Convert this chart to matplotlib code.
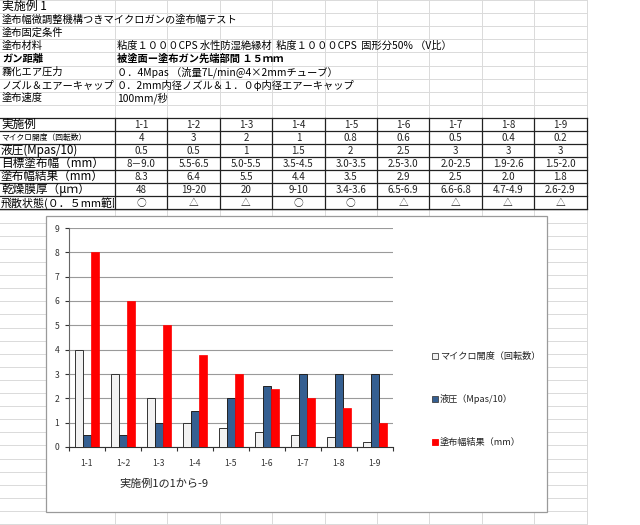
import numpy as np
import matplotlib
matplotlib.use("Agg")
import matplotlib.pyplot as plt
from matplotlib.patches import Rectangle

plt.rcParams['font.family'] = ['Noto Sans CJK JP', 'DejaVu Sans']

# header lines of the sheet
header_rows = [
    ("実施例 1", ""),
    ("塗布幅微調整機構つきマイクロガンの塗布幅テスト", ""),
    ("塗布固定条件", ""),
    ("塗布材料", "粘度１０００CPS 水性防湿絶縁材  粘度１０００CPS  固形分50% （V比）"),
    ("ガン距離", "被塗面ー塗布ガン先端部間 １５ｍｍ"),
    ("霧化エア圧力", "０．4Mpas （流量7L/min@4×2mmチューブ）"),
    ("ノズル＆エアーキャップ", "０．2mm内径ノズル＆１．０φ内径エアーキャップ"),
    ("塗布速度", "100mm/秒"),
]

# table
cases = ["1-1", "1-2", "1-3", "1-4", "1-5", "1-6", "1-7", "1-8", "1-9"]
row_labels = ["実施例", "マイクロ開度（回転数）", "液圧(Mpas/10)", "目標塗布幅（mm）",
              "塗布幅結果（mm）", "乾燥膜厚（μｍ）", "飛散状態(０．５mm範囲"]
micro_open = ["4", "3", "2", "1", "0.8", "0.6", "0.5", "0.4", "0.2"]
pressure = ["0.5", "0.5", "1", "1.5", "2", "2.5", "3", "3", "3"]
target_width = ["8－9.0", "5.5-6.5", "5.0-5.5", "3.5-4.5", "3.0-3.5",
                "2.5-3.0", "2.0-2.5", "1.9-2.6", "1.5-2.0"]
result_width = ["8.3", "6.4", "5.5", "4.4", "3.5", "2.9", "2.5", "2.0", "1.8"]
film = ["48", "19-20", "20", "9-10", "3.4-3.6", "6.5-6.9", "6.6-6.8", "4.7-4.9", "2.6-2.9"]
spray = ["○", "△", "△", "○", "○", "△", "△", "△", "△"]
table = [cases, micro_open, pressure, target_width, result_width, film, spray]

# chart series
series_names = ["マイクロ開度（回転数）", "液圧（Mpas/10）", "塗布幅結果（mm）"]
chart_micro = [4, 3, 2, 1, 0.8, 0.6, 0.5, 0.4, 0.2]
chart_pressure = [0.5, 0.5, 1, 1.5, 2, 2.5, 3, 3, 3]
chart_width = [8, 6, 5, 3.8, 3, 2.4, 2, 1.6, 1]
chart_cats = ["1-1", "1~2", "1-3", "1-4", "1-5", "1-6", "1-7", "1-8", "1-9"]
colors = ["#f2f2f2", "#355f91", "#ff0000"]

fig = plt.figure(figsize=(6.4, 5.25), dpi=100)
bg = fig.add_axes([0, 0, 1, 1])
bg.set_xlim(0, 640)
bg.set_ylim(525, 0)
bg.axis("off")

rh = 13.1
col0 = 115
cw = 52.4
right = col0 + 9 * cw

# spreadsheet grid
for i in range(41):
    bg.plot([0, right], [i * rh, i * rh], color="#dadada", lw=0.7, zorder=1)
for k in range(10):
    bg.plot([col0 + k * cw] * 2, [0, 525], color="#dadada", lw=0.7, zorder=1)

for i, (lab, val) in enumerate(header_rows):
    yc = i * rh + rh / 2
    w = "bold" if i == 4 else "normal"
    fs = 8.6 if i == 0 else 7.4
    bg.text(2, yc, lab, fontsize=fs, va="center", ha="left", weight=w, zorder=3)
    if val:
        bg.text(col0 + 2, yc, val, fontsize=7.4, va="center", ha="left", weight=w, zorder=3)

t0 = 9 * rh + 0.4
trh = 13.0
bg.add_patch(Rectangle((0, t0), right, 7 * trh, facecolor="white", edgecolor="none", zorder=1.5))
for r in range(8):
    bg.plot([0, right], [t0 + r * trh] * 2, color="#222222", lw=0.9, zorder=3)
for k in range(10):
    bg.plot([col0 + k * cw] * 2, [t0, t0 + 7 * trh], color="#222222", lw=0.9, zorder=3)
for r, lab in enumerate(row_labels):
    yc = t0 + r * trh + trh / 2
    fs = 5.6 if r == 1 else (7.9 if r == 6 else 8.4)
    t = bg.text(1, yc, lab, fontsize=fs, va="center", ha="left", zorder=4)
    clip = Rectangle((0, t0 + r * trh), col0 - 1.5, trh, transform=bg.transData)
    t.set_clip_path(clip)
    t.set_clip_on(True)
    for k, v in enumerate(table[r]):
        bg.text(col0 + k * cw + cw / 2, yc, v, fontsize=7.0, va="center", ha="center",
                color="#222222", zorder=4)

# chart frame
bg.add_patch(Rectangle((46, 216), 501, 296, facecolor="white", edgecolor="#9a9a9a",
                       lw=0.9, zorder=5))

# legend
for j, name in enumerate(series_names):
    yc = 356 + j * 43
    bg.plot([435], [yc], marker="s", ms=4, color=colors[j],
            markeredgecolor="#404040" if j < 2 else colors[j], mew=0.6, zorder=6)
    bg.text(440, yc, name, fontsize=6.6, va="center", ha="left", zorder=6, color="#222222")

bg.text(164, 484, "実施例1の1から-9", fontsize=8, va="center", ha="center", zorder=6,
        color="#222222")

# bar chart
ax = fig.add_axes([69 / 640, (525 - 447) / 525, 324 / 640, 219 / 525], zorder=10)
ax.patch.set_alpha(0)
x = np.arange(len(chart_cats))
bw = 0.23
ax.bar(x - bw, chart_micro, bw, color=colors[0], edgecolor="#333333", lw=0.7, zorder=3)
ax.bar(x, chart_pressure, bw, color=colors[1], edgecolor="#222222", lw=0.7, zorder=3)
ax.bar(x + bw, chart_width, bw, color=colors[2], edgecolor=colors[2], lw=0.5, zorder=3)
ax.set_xlim(-0.5, len(chart_cats) - 0.5)
ax.set_ylim(0, 9)
ax.set_yticks(range(10))
ax.yaxis.grid(True, color="#9a9a9a", lw=0.8, zorder=0)
ax.set_xticks(x)
ax.set_xticklabels(chart_cats, fontsize=6.2, color="#333333")
ax.set_xticks(np.arange(-0.5, len(chart_cats)), minor=True)
ax.tick_params(axis="x", which="major", length=0, pad=9)
ax.tick_params(axis="x", which="minor", length=3, color="#333333", width=0.8)
ax.tick_params(axis="y", length=3, color="#333333", labelsize=6.2, labelcolor="#333333", pad=4)
for s in ["top", "right"]:
    ax.spines[s].set_visible(False)
ax.spines["left"].set_color("#666666")
ax.spines["bottom"].set_color("#333333")

fig.savefig("out.png", dpi=100)
